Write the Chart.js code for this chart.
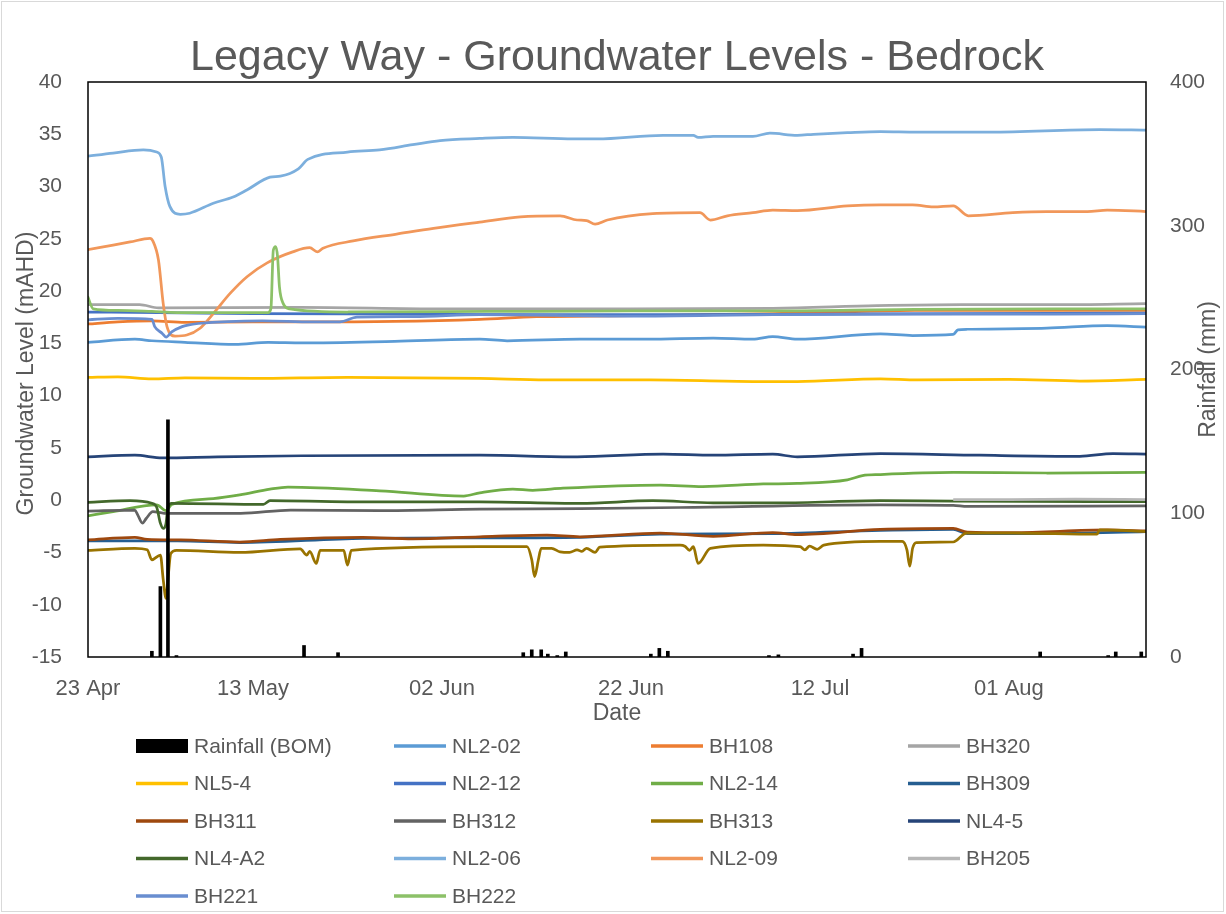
<!DOCTYPE html>
<html>
<head>
<meta charset="utf-8">
<script src="https://cdn.jsdelivr.net/npm/chart.js@4/dist/chart.umd.min.js"></script>
<style>
html,body{margin:0;padding:0;background:#fff;}
canvas{display:block;}
</style>
</head>
<body>
<canvas id="c" width="1226" height="914"></canvas>
<script>
// ---- Axis / tick labels (x values are days after 23 Apr) ----
const xTickDays = [2.54, 20, 40, 60, 80, 100];
const xTickLabels = ['23 Apr', '13 May', '02 Jun', '22 Jun', '12 Jul', '01 Aug'];
const xMin = 2.54, xMax = 114.5;

// ---- Rainfall (BOM), mm ----
const rainDays = [9.3, 10.2, 11.0, 11.9, 25.4, 29.0, 48.6, 49.5, 50.5, 51.2, 52.2, 53.1, 62.1, 63.0, 63.9, 74.6, 75.6, 83.5, 84.4, 103.3, 110.5, 111.3, 114.0];
const rainMm   = [4, 49, 165, 1, 8, 3, 3, 5, 5, 2, 1, 3.5, 2, 6, 4, 1, 1.5, 2, 6, 3.5, 1, 3.5, 3.5];

// ---- Groundwater series (mAHD) ----
const nl202Days = [2.5, 7.5, 9.3, 12.8, 18.1, 21.6, 25.2, 35, 44, 46.9, 54.6, 61.7, 68.7, 72.9, 75, 77.6, 86.4, 89.8, 94.1, 94.6, 95.6, 104, 110.4, 114.6];
const nl202Vals = [15.1, 15.4, 15.25, 15.1, 14.9, 15.1, 15.05, 15.2, 15.4, 15.25, 15.4, 15.4, 15.5, 15.4, 15.65, 15.4, 15.9, 15.75, 15.85, 16.3, 16.35, 16.45, 16.7, 16.55];

const bh108Days = [2.5, 5.7, 9.3, 12.8, 20, 25, 35, 44, 50, 56, 65, 75, 82, 90, 100, 114.6];
const bh108Vals = [16.85, 17.05, 17.15, 17.0, 17.05, 17.05, 17.1, 17.3, 17.55, 17.6, 17.7, 17.85, 18.0, 18.15, 18.15, 18.15];

const bh320Days = [2.5, 8, 10, 25, 40, 60, 75, 86, 95, 105, 114.6];
const bh320Vals = [18.7, 18.7, 18.4, 18.45, 18.3, 18.3, 18.35, 18.6, 18.7, 18.7, 18.8];

const nl54Days = [2.5, 5.7, 9.3, 12.8, 20, 30, 44, 51, 62, 72.9, 77.6, 86.4, 90.3, 100, 107.5, 114.6];
const nl54Vals = [11.75, 11.8, 11.6, 11.7, 11.65, 11.75, 11.65, 11.5, 11.5, 11.35, 11.35, 11.6, 11.5, 11.55, 11.4, 11.55];

const nl212Days = [2.5, 10, 20, 35, 50, 65, 80, 95, 114.6];
const nl212Vals = [18.0, 17.95, 17.85, 17.8, 17.75, 17.75, 17.8, 17.85, 17.9];

const nl214Days = [2.5, 5.2, 9.8, 10.8, 11.4, 15.8, 18.6, 21.8, 23.7, 33.4, 42.3, 44, 47.5, 49.6, 52.8, 63.1, 67.6, 74, 77.6, 82.9, 84.5, 86.4, 94.1, 104, 114.6];
const nl214Vals = [-1.5, -1.1, -0.45, -1.0, -0.4, 0.15, 0.5, 1.05, 1.25, 0.9, 0.4, 0.7, 1.05, 0.95, 1.15, 1.45, 1.3, 1.55, 1.6, 1.95, 2.35, 2.45, 2.65, 2.6, 2.65];

const bh309Days = [2.5, 12, 18.6, 31.6, 44, 54.6, 63, 75, 86.4, 94.1, 95.6, 104, 114.6];
const bh309Vals = [-3.9, -3.9, -4.05, -3.65, -3.6, -3.55, -3.25, -3.2, -2.9, -2.8, -3.2, -3.2, -3.0];

const bh311Days = [2.5, 7.5, 8.8, 12.3, 18.6, 22.9, 31.6, 36.9, 44, 51.1, 54.6, 63.1, 68.7, 75, 77.6, 86.4, 94.1, 95.6, 100.4, 110.4, 114.6];
const bh311Vals = [-3.8, -3.55, -3.75, -3.8, -4.0, -3.75, -3.55, -3.7, -3.5, -3.35, -3.5, -3.15, -3.45, -3.1, -3.3, -2.8, -2.7, -3.05, -3.1, -2.85, -2.95];

const bh312Days = [2.5, 7.5, 7.8, 8.3, 8.7, 9.4, 10.6, 18.7, 24, 33.4, 44, 54.6, 65.2, 86.4, 94.1, 95.6, 114.6];
const bh312Vals = [-1.05, -0.95, -1.4, -2.2, -1.75, -1.1, -1.25, -1.25, -0.95, -1.0, -0.85, -0.8, -0.7, -0.45, -0.5, -0.6, -0.55];

const bh313Days = [2.5, 7.5, 8.8, 9.3, 10.2, 10.5, 10.8, 11.0, 11.3, 11.9, 18.6, 25, 25.7, 26, 26.7, 27.1, 29.6, 30, 30.4, 44, 49, 49.5, 49.8, 50.2, 50.5, 51.6, 52.5, 53.5, 54.3, 54.8, 55.3, 56.2, 56.7, 65.2, 65.7, 66.2, 66.6, 67.1, 68.4, 74, 77.9, 78.4, 78.9, 79.7, 80.4, 86.4, 88.7, 89.2, 89.5, 89.8, 90.2, 94.1, 95.5, 100.4, 109.3, 109.6, 114.6];
const bh313Vals = [-4.8, -4.6, -4.75, -5.7, -5.25, -7.6, -9.4, -7.6, -5.1, -4.8, -5.0, -4.65, -5.25, -4.9, -6.05, -4.8, -4.8, -6.2, -4.8, -4.45, -4.45, -5.7, -7.3, -5.7, -4.6, -4.6, -4.95, -5.0, -4.75, -4.9, -4.6, -5.0, -4.5, -4.3, -4.4, -4.8, -4.45, -6.05, -4.6, -4.3, -4.45, -4.75, -4.4, -4.7, -4.3, -3.95, -3.95, -4.75, -6.3, -4.6, -4.05, -4.0, -3.15, -3.15, -3.25, -2.85, -3.0];

const nl45Days = [2.5, 7.5, 10.4, 16.3, 25.2, 44, 54.3, 63.4, 68.7, 75, 77.6, 86.4, 96.9, 107.5, 111, 114.6];
const nl45Vals = [4.15, 4.3, 4.05, 4.15, 4.25, 4.3, 4.15, 4.4, 4.3, 4.4, 4.15, 4.45, 4.3, 4.2, 4.45, 4.4];

const nl4a2Days = [2.5, 7, 9.3, 9.8, 10.2, 10.5, 10.8, 11.0, 11.4, 21.1, 21.8, 30, 44, 54.6, 62.3, 68.7, 75.8, 86.4, 94.1, 114.6];
const nl4a2Vals = [-0.2, -0.05, -0.3, -0.65, -2.2, -2.7, -2.2, -0.65, -0.3, -0.4, -0.05, -0.15, -0.15, -0.3, -0.05, -0.25, -0.25, -0.05, -0.1, -0.15];

const nl206Days = [2.5, 5.2, 8.4, 9.8, 10.3, 10.7, 11.2, 12.3, 13.3, 15.8, 17.9, 19.4, 21.8, 22.9, 24.8, 25.8, 30, 33.4, 36.9, 39.8, 44, 47.5, 53.9, 56.4, 63.4, 66.6, 67.1, 68.7, 72.9, 74.7, 77.6, 79.3, 82.9, 86.4, 90.3, 98, 109.6, 114.6];
const nl206Vals = [32.9, 33.2, 33.5, 33.3, 32.8, 30.0, 28.1, 27.35, 27.45, 28.4, 29.0, 29.7, 30.9, 31.0, 31.7, 32.6, 33.3, 33.5, 34.0, 34.4, 34.6, 34.7, 34.55, 34.55, 34.9, 34.9, 34.7, 34.8, 34.8, 35.1, 34.9, 35.0, 35.15, 35.25, 35.2, 35.2, 35.45, 35.4];

const nl209Days = [2.5, 5.2, 7.0, 9.1, 9.4, 10.0, 10.5, 10.9, 11.75, 13.0, 14.4, 15.8, 17.6, 19.4, 21.5, 24.2, 26.0, 26.8, 27.4, 30.6, 35.2, 39.1, 44.0, 48.3, 52.5, 54.3, 55.3, 56.2, 57.5, 62.3, 67.3, 68.4, 70.2, 72.9, 75.0, 77.6, 82.9, 86.4, 89.8, 92.0, 94.1, 95.7, 100.4, 104.0, 108.3, 110.4, 114.6];
const nl209Vals = [23.95, 24.4, 24.7, 25.05, 24.8, 22.95, 18.8, 16.6, 15.7, 15.8, 16.45, 17.85, 19.8, 21.4, 22.7, 23.75, 24.15, 23.75, 24.1, 24.8, 25.45, 26.0, 26.6, 27.1, 27.2, 26.8, 26.75, 26.4, 26.8, 27.4, 27.5, 26.8, 27.2, 27.5, 27.75, 27.7, 28.15, 28.25, 28.25, 28.05, 28.15, 27.2, 27.5, 27.6, 27.6, 27.75, 27.6];

const bh205Days = [94.1, 100, 107, 114.6];
const bh205Vals = [0.05, 0.05, 0.1, 0.05];

const bh221Days = [2.5, 5.7, 9.3, 9.6, 10.4, 10.8, 11.4, 12.5, 13.1, 14.2, 21, 26.3, 29.2, 31, 37, 44, 60, 75, 90, 105, 114.6];
const bh221Vals = [17.25, 17.4, 17.3, 16.6, 15.95, 15.6, 16.1, 16.6, 16.75, 16.9, 17.15, 17.05, 17.05, 17.5, 17.55, 17.75, 17.6, 17.75, 17.8, 17.8, 17.85];

const bh222Days = [2.5, 3.1, 5.7, 9.3, 12, 21.6, 21.9, 22.15, 22.4, 22.6, 22.8, 23.2, 23.9, 30, 45, 60, 75, 90, 105, 114.6];
const bh222Vals = [19.5, 18.3, 18.15, 18.05, 17.95, 17.95, 18.35, 23.9, 24.25, 23.3, 20.4, 18.8, 18.3, 18.0, 18.05, 18.1, 18.1, 18.25, 18.3, 18.3];

const seriesDefs = [
  ['NL2-02', '#5B9BD5', nl202Days, nl202Vals],
  ['BH108',  '#ED7D31', bh108Days, bh108Vals],
  ['BH320',  '#A5A5A5', bh320Days, bh320Vals],
  ['NL5-4',  '#FFC000', nl54Days,  nl54Vals],
  ['NL2-12', '#4472C4', nl212Days, nl212Vals],
  ['NL2-14', '#70AD47', nl214Days, nl214Vals],
  ['BH309',  '#255E91', bh309Days, bh309Vals],
  ['BH311',  '#9E480E', bh311Days, bh311Vals],
  ['BH312',  '#636363', bh312Days, bh312Vals],
  ['BH313',  '#997300', bh313Days, bh313Vals],
  ['NL4-5',  '#264478', nl45Days,  nl45Vals],
  ['NL4-A2', '#43682B', nl4a2Days, nl4a2Vals],
  ['NL2-06', '#7CAFDD', nl206Days, nl206Vals],
  ['NL2-09', '#F1975A', nl209Days, nl209Vals],
  ['BH205',  '#B7B7B7', bh205Days, bh205Vals],
  ['BH221',  '#698ED0', bh221Days, bh221Vals],
  ['BH222',  '#8CC168', bh222Days, bh222Vals]
];

const FONT = "'Liberation Sans', Arial, sans-serif";
const TXT = '#595959';

const datasets = [{
  type: 'bar',
  label: 'Rainfall (BOM)',
  yAxisID: 'y2',
  data: rainDays.map((d, i) => ({x: d, y: rainMm[i]})),
  backgroundColor: '#000000',
  borderWidth: 0,
  barThickness: 3,
  order: -1000
}];
seriesDefs.forEach(([label, color, days, vals], i) => {
  datasets.push({
    type: 'line',
    label: label,
    yAxisID: 'y',
    data: days.map((d, k) => ({x: d, y: vals[k]})),
    borderColor: color,
    backgroundColor: color,
    borderWidth: 2.75,
    pointRadius: 0,
    pointHoverRadius: 0,
    cubicInterpolationMode: 'monotone',
    fill: false,
    order: -(i + 1)
  });
});

const decor = {
  id: 'decor',
  beforeDraw(chart) {
    const ctx = chart.ctx;
    ctx.save();
    ctx.fillStyle = '#ffffff';
    ctx.fillRect(0, 0, chart.width, chart.height);
    ctx.strokeStyle = '#D9D9D9';
    ctx.lineWidth = 1;
    ctx.strokeRect(1.5, 1.5, chart.width - 4, chart.height - 4);
    ctx.restore();
  },
  afterDraw(chart) {
    const ctx = chart.ctx;
    const a = chart.chartArea;
    ctx.save();
    // plot frame
    ctx.strokeStyle = '#000000';
    ctx.lineWidth = 1.5;
    ctx.strokeRect(a.left, a.top, a.right - a.left, a.bottom - a.top);

    ctx.fillStyle = TXT;
    // title
    ctx.font = '43px ' + FONT;
    ctx.textAlign = 'center';
    ctx.textBaseline = 'alphabetic';
    ctx.fillText('Legacy Way - Groundwater Levels - Bedrock', (a.left + a.right) / 2, 70);

    // x title
    ctx.font = '23px ' + FONT;
    ctx.textBaseline = 'middle';
    ctx.fillText('Date', (a.left + a.right) / 2, 714);

    // left axis title
    ctx.save();
    ctx.translate(27, (a.top + a.bottom) / 2 + 4);
    ctx.rotate(-Math.PI / 2);
    ctx.fillText('Groundwater Level (mAHD)', 0, 0);
    ctx.restore();

    // right axis title
    ctx.save();
    ctx.translate(1209, (a.top + a.bottom) / 2);
    ctx.rotate(-Math.PI / 2);
    ctx.fillText('Rainfall (mm)', 0, 0);
    ctx.restore();

    // legend (4 columns)
    const items = [{label: 'Rainfall (BOM)', color: '#000000', box: true}]
      .concat(seriesDefs.map(s => ({label: s[0], color: s[1], box: false})));
    const colX = [136, 394, 651, 908];
    const row0 = 746, rowH = 37.5;
    ctx.textAlign = 'left';
    ctx.textBaseline = 'middle';
    ctx.font = '21px ' + FONT;
    items.forEach((it, idx) => {
      const cx = colX[idx % 4];
      const cy = row0 + Math.floor(idx / 4) * rowH;
      if (it.box) {
        ctx.fillStyle = it.color;
        ctx.fillRect(cx, cy - 7, 52, 14);
      } else {
        ctx.strokeStyle = it.color;
        ctx.lineWidth = 3.5;
        ctx.beginPath();
        ctx.moveTo(cx, cy);
        ctx.lineTo(cx + 52, cy);
        ctx.stroke();
      }
      ctx.fillStyle = TXT;
      ctx.fillText(it.label, cx + 58, cy + 1);
    });
    ctx.restore();
  }
};

new Chart(document.getElementById('c'), {
  type: 'line',
  data: {datasets: datasets},
  options: {
    responsive: false,
    animation: false,
    devicePixelRatio: 1,
    layout: {padding: {top: 82, left: 0, right: 0, bottom: 0}},
    plugins: {legend: {display: false}, tooltip: {enabled: false}, title: {display: false}},
    scales: {
      x: {
        type: 'linear',
        min: xMin,
        max: xMax,
        offset: false,
        grid: {display: false, drawTicks: false, offset: false},
        border: {display: false},
        afterBuildTicks: s => { s.ticks = xTickDays.map(v => ({value: v})); },
        afterFit: s => { s.height = 914 - 657; },
        ticks: {
          autoSkip: false, maxRotation: 0, minRotation: 0, padding: 19,
          color: TXT, font: {family: FONT, size: 22},
          callback: (v, i) => xTickLabels[i]
        }
      },
      y: {
        type: 'linear',
        position: 'left',
        min: -15,
        max: 40,
        grid: {display: false, drawTicks: false},
        border: {display: false},
        afterFit: s => { s.width = 88; },
        ticks: {stepSize: 5, padding: 26, color: TXT, font: {family: FONT, size: 21}}
      },
      y2: {
        type: 'linear',
        position: 'right',
        min: 0,
        max: 400,
        grid: {display: false, drawTicks: false},
        border: {display: false},
        afterFit: s => { s.width = 80; },
        ticks: {stepSize: 100, padding: 24, color: TXT, font: {family: FONT, size: 21}}
      }
    }
  },
  plugins: [decor]
});
</script>
</body>
</html>
